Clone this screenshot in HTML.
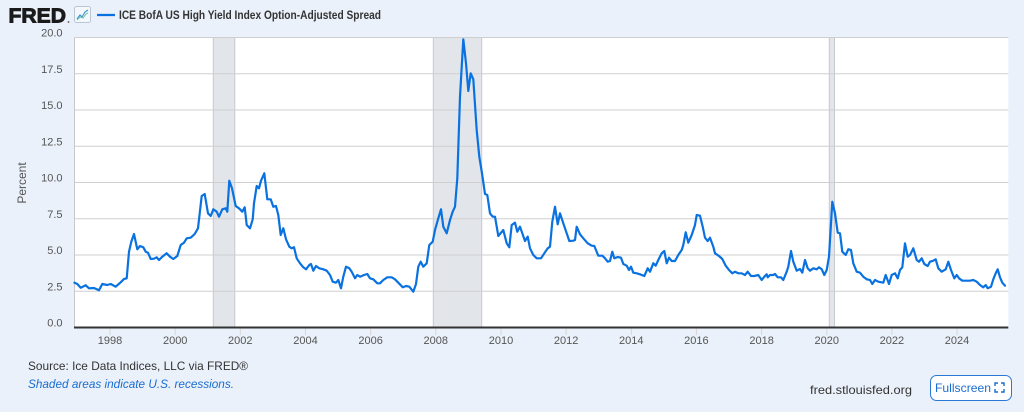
<!DOCTYPE html>
<html>
<head>
<meta charset="utf-8">
<style>
  html, body { margin:0; padding:0; background:#eaf1fa; }
  body { width:1024px; height:412px; overflow:hidden; }
  svg { display:block; }
  text { font-family: "Liberation Sans", "DejaVu Sans", sans-serif; }
</style>
</head>
<body>
<svg width="1024" height="412" viewBox="0 0 1024 412" xmlns="http://www.w3.org/2000/svg">
  <rect x="0" y="0" width="1024" height="412" fill="#eaf1fa"/>

  <!-- Header -->
  <text x="8.5" y="22.5" font-size="20.5" font-weight="bold" fill="#1a1a1a" stroke="#1a1a1a" stroke-width="0.9" textLength="57.5" lengthAdjust="spacingAndGlyphs">FRED</text>
  <circle cx="68.5" cy="22" r="0.9" fill="#555"/>
  <rect x="74.5" y="6.5" width="16" height="16" rx="2" fill="#f4f8fc" stroke="#b9c6d4" stroke-width="1"/>
  <polyline points="77,19 80,15 82,17 85,12 88,10" fill="none" stroke="#3b8fd6" stroke-width="1.1"/>
  <polyline points="77,20 80,17 83,18 86,14 88,13" fill="none" stroke="#6cc4a4" stroke-width="1"/>
  <line x1="97" y1="15" x2="115" y2="15" stroke="#0a72e0" stroke-width="2.2"/>
  <text x="119" y="19" font-size="11.5" font-weight="bold" fill="#333" textLength="262" lengthAdjust="spacingAndGlyphs">ICE BofA US High Yield Index Option-Adjusted Spread</text>

  <!-- Plot area -->
  <rect x="74.5" y="37.5" width="933.8" height="290" fill="#ffffff"/>

  <!-- Recession bands -->
  <rect x="213.3" y="37.5" width="21.5" height="290" fill="#e2e6eb" stroke="#c6cacf" stroke-width="1"/>
  <rect x="433.3" y="37.5" width="48.4" height="290" fill="#e2e6eb" stroke="#c6cacf" stroke-width="1"/>
  <rect x="829.3" y="37.5" width="5.2" height="290" fill="#e2e6eb" stroke="#c6cacf" stroke-width="1"/>

  <!-- Gridlines -->
  <g stroke="#cfcfcf" stroke-width="1">
    <line x1="74.5" x2="1008.3" y1="37.5" y2="37.5"/>
    <line x1="74.5" x2="1008.3" y1="73.75" y2="73.75"/>
    <line x1="74.5" x2="1008.3" y1="110" y2="110"/>
    <line x1="74.5" x2="1008.3" y1="146.25" y2="146.25"/>
    <line x1="74.5" x2="1008.3" y1="182.5" y2="182.5"/>
    <line x1="74.5" x2="1008.3" y1="218.75" y2="218.75"/>
    <line x1="74.5" x2="1008.3" y1="255" y2="255"/>
    <line x1="74.5" x2="1008.3" y1="291.25" y2="291.25"/>
  </g>
  <line x1="74.5" y1="37.5" x2="74.5" y2="327.5" stroke="#c8c8c8" stroke-width="1"/>

  <!-- x ticks -->
  <g stroke="#d6d6d6" stroke-width="1">
    <line x1="110" x2="110" y1="328" y2="335"/>
    <line x1="175.2" x2="175.2" y1="328" y2="335"/>
    <line x1="240.3" x2="240.3" y1="328" y2="335"/>
    <line x1="305.5" x2="305.5" y1="328" y2="335"/>
    <line x1="370.6" x2="370.6" y1="328" y2="335"/>
    <line x1="435.8" x2="435.8" y1="328" y2="335"/>
    <line x1="501" x2="501" y1="328" y2="335"/>
    <line x1="566.1" x2="566.1" y1="328" y2="335"/>
    <line x1="631.3" x2="631.3" y1="328" y2="335"/>
    <line x1="696.4" x2="696.4" y1="328" y2="335"/>
    <line x1="761.6" x2="761.6" y1="328" y2="335"/>
    <line x1="826.8" x2="826.8" y1="328" y2="335"/>
    <line x1="891.9" x2="891.9" y1="328" y2="335"/>
    <line x1="957" x2="957" y1="328" y2="335"/>
  </g>

  <!-- Bottom axis -->
  <line x1="74" y1="327.5" x2="1008.3" y2="327.5" stroke="#333" stroke-width="2"/>

  <!-- Series -->
  <polyline fill="none" stroke="#0a72e0" stroke-width="2.2" stroke-linejoin="round" stroke-linecap="round" points="
74.5,282.7 77.3,284 80.7,287.7 85.7,285.3 89,288.3 94,288 99,290.3 102.3,284 107.3,285 110.7,284 115.7,286.7 120.7,282.3 124,279 126.7,278.3 129,251.7 131.3,241.7 134,234 137.3,249.3 140,246 143.3,247.3 145.7,251.7 148,252.7 150.7,259 154,258.7 156.7,257.3 159,260 162.3,256.7 166.7,253.3 170,256.7 173.3,259 177.3,256 180.7,245 184,242.7 186.7,238.3 190.7,237.7 194.7,234 198,228.3 201.7,196 204.7,194 208,213.3 210.7,216 213.3,209.3 216.7,211.7 219,216.7 222.3,209.3 225.7,208.3 227.3,211.7 229.3,180.7 232,188.3 235.7,206 239,208.3 242.3,211.7 244.7,207.3 246.7,225 250,228.3
252.7,219.3 254,203.3 256.7,186 259,188.3 261,180.7 264.3,173.3 267.3,199.3 270.7,199.3 273.3,206.7 276,206 278.3,215 280.7,235 283.3,228.3 286,239.3 289.3,246.7 291.7,248.3 294,247.3 296.7,258.3 300,263.3 303.3,267.3 306,269.3 309.3,265 311,264 313.3,270.7 316,266 319.3,268.3 323.3,269.3 326.7,270.7 330,275 332.7,281.7 336,282.7 338.3,280 341,288.3 343.3,276.7 346,266.7 349.3,268.3 351.7,271.7 355,278.3 357.3,275 360,276.7 364,275 367.3,274 370,278.3 373.3,279.3 377.3,283.3 380,283.3 383.3,280 387.3,277.3 391.7,277.3 395,279.3 398.3,282.7 402.7,287.3 406,286 409.3,286.7 413.3,291.7 416,284 418.3,266.7 420.7,261.7 423.3,266.7 426.7,263.3 429.3,245 432.7,241.7
435,230 438.3,218.3 441,209.3 443.3,226.7 446.7,233.3 450,220 452.7,211.7 455,206.7 457.3,178.3 460,96.7 463.3,39.3 466,63.3 468.3,91 470.7,73.3 473.3,79.3 476.7,130 479.3,156.7 482,173.3 485,194 487.3,195 490,213.3 492.7,216.7 495,216.7 498.3,236 503.3,230 506.7,243.3 509.3,247.3 511.7,225 515,222.7 517.3,231.7 520,226.7
522.3,233.3 525,241 527.7,236.7 530,248.3 533.3,255 536.7,258.3 541,258.3 544.3,253.3 547.7,248.3 550,246.7 552.3,221.7 555,206.7 557.7,224.3 560,213.3 563.3,223.3 566.7,233.3 569.3,241 573.3,240.7 575,240 576.7,226.7 580,234.3 583.3,238.3 587.7,243.3 591.7,245.7 594.3,246 598.3,255.7 602.3,255.7 605,258.3 607.7,261.7 610,261 612.3,251.7 614.3,258.3 617.7,257 621,257.7 623.3,264 626.7,265.7 629,270 631,266.7 633.3,272.7 636.7,273.3 640,274.3 644.3,276 647.7,268.3 650,271.7 653.3,263.3 655.7,265.7 658.3,260 661.7,253.3 664.3,251 666.7,263.3 669,257.7 671.7,261 675,261 678.3,255 681.7,250 683.3,245 685.7,232.3 688.3,242.7 691.7,235 695,225 696.7,215 700,215.7 702.7,226.7 705,237.7 707.7,241 710,237.7 713.3,246.7 715,253.3 719,256 722.3,259 725.7,265.7 729,270 732.3,273.3 735,271.7 738.3,273.3 741.7,273.3 745,275 747.7,271.7 751,276 754.3,276 758.3,275 761.7,280 764.3,276.7 766.7,274.3
767.7,277.3 770,275 773.3,275 775,274 777.7,277.3 781,277.3 783.3,280 786.7,271.7 788.3,266.7 791,251 793.3,261.7 796.7,270.7 800,269 802.3,272.7 805,260 807.7,268.3 810,270.7 813.3,268.3 816.7,269.3 819,267.3 821.7,269.3 824.3,275 826.7,270 829,256.7 831,223.3 832.3,201.7 835,213.3 837.7,232.7 840,233.3 842.3,251.7 845.7,255 848.3,249.3 851,250 853.3,263.3 856.7,271.7 860,272.7 863.3,276.7 866.7,279.3 870,280 872.3,284 875,280 878.3,281.7 883.3,282.7 885.7,275 889,284 891.7,275 895,273.3 897.7,278.3 900,270 902.3,267.3 905,243.3 907.7,256.7 910,255 913.3,248.3 916.7,260 919,261.7 921.7,258.3 924.3,264 927.7,266 930,261.7 933.3,260.7 935.7,259.3 938.3,268.3 941.7,271.7 945.7,269.3 948.3,261.7 951,270 954.3,278.3 956.7,275 959,278.3 962.3,280.7 966.7,280.7 970,280.7 973.3,280 976.7,281.7 980,285 983.3,287.3 985.7,285 987.7,288.3 991,286.7 993.3,279.3 995.7,273.3 997.7,269.3 1000,277.3 1002.3,282.7 1005,285.7"/>

  <!-- Y labels -->
  <g font-size="11" fill="#555" text-anchor="end">
    <text x="62.5" y="36.5">20.0</text>
    <text x="62.5" y="72.75">17.5</text>
    <text x="62.5" y="109">15.0</text>
    <text x="62.5" y="145.25">12.5</text>
    <text x="62.5" y="181.5">10.0</text>
    <text x="62.5" y="217.75">7.5</text>
    <text x="62.5" y="254">5.0</text>
    <text x="62.5" y="290.25">2.5</text>
    <text x="62.5" y="326.5">0.0</text>
  </g>
  <text x="0" y="0" font-size="12" fill="#555" text-anchor="middle" transform="translate(26,183) rotate(-90)">Percent</text>

  <!-- X labels -->
  <g font-size="11" fill="#555" text-anchor="middle">
    <text x="110" y="344">1998</text>
    <text x="175.2" y="344">2000</text>
    <text x="240.3" y="344">2002</text>
    <text x="305.5" y="344">2004</text>
    <text x="370.6" y="344">2006</text>
    <text x="435.8" y="344">2008</text>
    <text x="501" y="344">2010</text>
    <text x="566.1" y="344">2012</text>
    <text x="631.3" y="344">2014</text>
    <text x="696.4" y="344">2016</text>
    <text x="761.6" y="344">2018</text>
    <text x="826.8" y="344">2020</text>
    <text x="891.9" y="344">2022</text>
    <text x="957" y="344">2024</text>
  </g>

  <!-- Footer -->
  <text x="28" y="370" font-size="12" fill="#333" textLength="220" lengthAdjust="spacingAndGlyphs">Source: Ice Data Indices, LLC via FRED®</text>
  <text x="28" y="388" font-size="12" font-style="italic" fill="#1a6dd0" textLength="206" lengthAdjust="spacingAndGlyphs">Shaded areas indicate U.S. recessions.</text>
  <text x="810" y="394" font-size="12" fill="#333" textLength="102" lengthAdjust="spacingAndGlyphs">fred.stlouisfed.org</text>

  <rect x="930.5" y="375.5" width="81" height="25" rx="6" fill="#ffffff" stroke="#2a78d6" stroke-width="1"/>
  <text x="935" y="392" font-size="12" fill="#1a6dd0" textLength="56" lengthAdjust="spacingAndGlyphs">Fullscreen</text>
  <g stroke="#1a6dd0" stroke-width="1.4" fill="none">
    <polyline points="995,386 995,383 998,383"/>
    <polyline points="1001,383 1004,383 1004,386"/>
    <polyline points="1004,389 1004,392 1001,392"/>
    <polyline points="998,392 995,392 995,389"/>
  </g>
</svg>
</body>
</html>
